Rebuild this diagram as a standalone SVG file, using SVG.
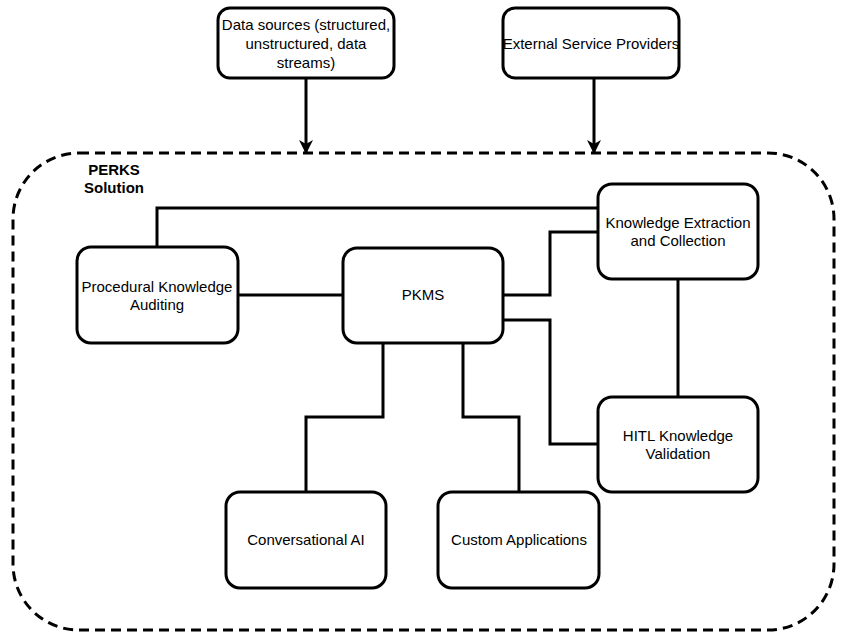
<svg xmlns="http://www.w3.org/2000/svg" width="846" height="632" viewBox="0 0 846 632">
<defs>
<style>
.box{fill:#fff;stroke:#000;stroke-width:3}
.t{font-family:"Liberation Sans",Arial,sans-serif;font-size:15px;fill:#000;text-anchor:middle}
.b{font-weight:bold}
.c{fill:none;stroke:#000;stroke-width:3}
</style>
<marker id="arr" markerWidth="16" markerHeight="16" refX="14" refY="7" orient="auto" markerUnits="userSpaceOnUse">
<path d="M0,0 L14,7 L0,14 L4,7 Z" fill="#000"/>
</marker>
</defs>
<rect width="846" height="632" fill="#fff"/>
<g id="container">
<rect x="13" y="153" width="821" height="477" rx="66" ry="66" fill="none" stroke="#000" stroke-width="3" stroke-dasharray="10 6"/>
<text class="t b" x="114" y="175">PERKS</text>
<text class="t b" x="114" y="193">Solution</text>
</g>
<g id="connectors">
<path class="c" d="M306,78 V154" marker-end="url(#arr)"/>
<path class="c" d="M594,78 V154" marker-end="url(#arr)"/>
<path class="c" d="M157,247 V208 H598"/>
<path class="c" d="M238,295 H343"/>
<path class="c" d="M503,295 H550 V232 H598"/>
<path class="c" d="M503,320 H550 V444 H598"/>
<path class="c" d="M678,279 V397"/>
<path class="c" d="M383,343 V417 H306 V492"/>
<path class="c" d="M463,343 V417 H519 V492"/>
</g>
<g id="data-sources">
<rect class="box" x="218" y="8" width="176" height="70" rx="12"/>
<text class="t" x="306" y="30">Data sources (structured,</text>
<text class="t" x="306" y="49">unstructured, data</text>
<text class="t" x="306" y="68">streams)</text>
</g>
<g id="external">
<rect class="box" x="503" y="8" width="176" height="70" rx="12"/>
<text class="t" x="591" y="49">External Service Providers</text>
</g>
<g id="auditing">
<rect class="box" x="77" y="247" width="161" height="96" rx="14"/>
<text class="t" x="157" y="292">Procedural Knowledge</text>
<text class="t" x="157" y="310">Auditing</text>
</g>
<g id="pkms">
<rect class="box" x="343" y="248" width="160" height="95" rx="14"/>
<text class="t" x="423" y="300">PKMS</text>
</g>
<g id="extraction">
<rect class="box" x="598" y="184" width="160" height="95" rx="14"/>
<text class="t" x="678" y="228">Knowledge Extraction</text>
<text class="t" x="678" y="246">and Collection</text>
</g>
<g id="hitl">
<rect class="box" x="598" y="397" width="160" height="95" rx="14"/>
<text class="t" x="678" y="441">HITL Knowledge</text>
<text class="t" x="678" y="459">Validation</text>
</g>
<g id="conversational">
<rect class="box" x="226" y="492" width="160" height="96" rx="14"/>
<text class="t" x="306" y="545">Conversational AI</text>
</g>
<g id="custom">
<rect class="box" x="438" y="492" width="161" height="96" rx="14"/>
<text class="t" x="519" y="545">Custom Applications</text>
</g>
</svg>
